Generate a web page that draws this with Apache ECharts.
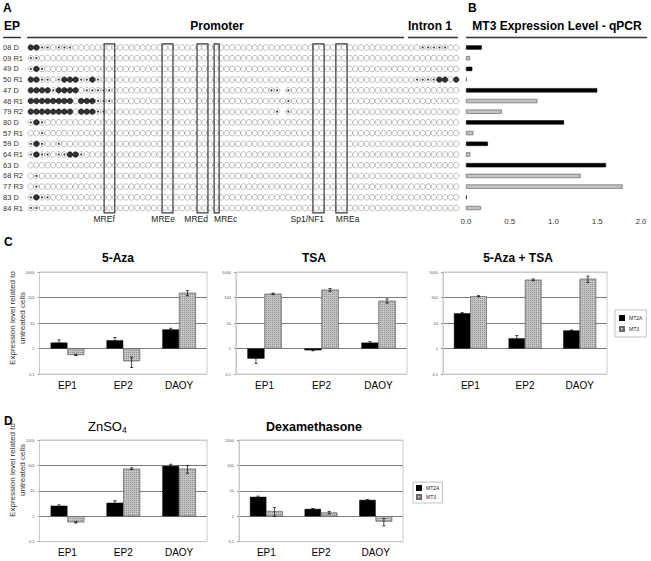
<!DOCTYPE html>
<html><head><meta charset="utf-8">
<script src="https://cdn.jsdelivr.net/npm/echarts@6/dist/echarts.min.js"></script>
<style>html,body{margin:0;padding:0;background:#fff}#c{width:651px;height:561px}</style>
</head><body><div id="c"></div>
<script>
// ---------- Panel A / B data ----------
const samples = ['08 D','09 R1','49 D','50 R1','47 D','46 R1','79 R2','80 D','57 R1','59 D','64 R1','63 D','68 R2','77 R3','83 D','84 R1'];
const nCpG = 77;
const methylatedCols = [
  [0,1],[],[1],[0,1,6,7,8,11,73,74,76],[0,1,2,3,5,6,7,8],[0,1,2,3,4,5,6,7,9,10,11],
  [0,1,2,3,4,5,6,7,9,10,11],[1],[],[1],[1,7,8],[],[],[],[1],[]
];
const partialCols = [
  [2,3,5,6,7,70,71,72,73,74],[0,1],[0,2],[2,3,5,9,10,12,69,70,71,72],[4,10,11,12,13,14,43,44,46],[12,13,14,46],
  [12,13,44,46],[0,2],[2],[0,2,5],[0,2,3,5,6,9],[],[1],[1],[0,2,3],[0,1]
];
const missingCols = [[],[],[],[],[45],[],[45],[],[],[],[],[],[],[],[],[]];
const boxes = [[13.1,15.0],[23.45,25.4],[29.7,31.65],[32.75,33.65],[50.4,52.4],[54.5,56.5]];
const boxNames = ['MREf','MREe','MREd','MREc','Sp1/NF1','MREa'];
const boxLabelAlign = ['right','right','right','left','right','left'];
const mt3qPCR = [0.18,0.046,0.072,0.008,1.50,0.815,0.41,1.12,0.084,0.25,0.05,1.60,1.31,1.79,0.008,0.17];
const qpcrTicks = ['0.0','0.5','1.0','1.5','2.0'];

// ---------- Panel C / D data ----------
const cellLines = ['EP1','EP2','DAOY'];
const logTicksC = ['0.1','1','10','100','1000'];
const logTicksD = ['0,1','1','10','100','1000'];
const aza_MT2A = [1.7,2.1,5.6],   aza_MT2A_err = [0.5,0.6,0.6];
const aza_MT3  = [0.56,0.32,152], aza_MT3_err  = [0.03,0.14,35];
const tsa_MT2A = [0.40,0.85,1.7], tsa_MT2A_err = [0.14,0.04,0.15];
const tsa_MT3  = [139,200,74],    tsa_MT3_err  = [10,25,14];
const azaTsa_MT2A = [24,2.5,5.1], azaTsa_MT2A_err = [1.5,0.7,0.2];
const azaTsa_MT3  = [112,495,540],azaTsa_MT3_err  = [6,40,150];
const zn_MT2A = [2.6,3.4,96],     zn_MT2A_err = [0.2,0.7,15];
const zn_MT3  = [0.58,74,74],     zn_MT3_err  = [0.04,6,25];
const dexa_MT2A = [5.8,1.95,4.4], dexa_MT2A_err = [0.4,0.05,0.1];
const dexa_MT3  = [1.6,1.4,0.62], dexa_MT3_err  = [0.6,0.15,0.2];

// ---------- build ----------
const FONT = '"Liberation Sans", Arial, sans-serif';
const chart = echarts.init(document.getElementById('c'), null, {renderer:'svg', width:651, height:561});

const whiteDots=[], blackDots=[], ringDots=[];
samples.forEach((s, r) => {
  for (let c = 0; c < nCpG; c++) {
    if (missingCols[r].includes(c)) continue;
    if (methylatedCols[r].includes(c)) blackDots.push([c, r]);
    else if (partialCols[r].includes(c)) ringDots.push([c, r]);
    else whiteDots.push([c, r]);
  }
});

const grids = [], xAxes = [], yAxes = [], series = [], legends = [];
// Grid 0: methylation map
grids.push({left:28, top:42.15, width:431, height:171.2});
xAxes.push({gridIndex:0, type:'value', min:-0.5, max:nCpG-0.5, show:false});
yAxes.push({gridIndex:0, type:'category', data:samples, inverse:true,
  axisLine:{show:false}, axisTick:{show:false}, splitLine:{show:false},
  axisLabel:{align:'left', margin:25, fontSize:7.5, color:'#333', fontFamily:FONT}});
const dotBase = {type:'scatter', xAxisIndex:0, yAxisIndex:0, symbol:'circle', symbolSize:5.6, silent:true, animation:false};
series.push(Object.assign({}, dotBase, {data:whiteDots, itemStyle:{color:'#fff', borderColor:'#777', borderWidth:0.6}}));
series.push(Object.assign({}, dotBase, {data:ringDots, itemStyle:{color:'#fff', borderColor:'#777', borderWidth:0.6}}));
series.push(Object.assign({}, dotBase, {data:ringDots, symbolSize:2, z:3, itemStyle:{color:'#000'}}));
series.push(Object.assign({}, dotBase, {data:blackDots, itemStyle:{color:'#000', borderColor:'#000', borderWidth:0.6}}));
series.push({type:'custom', xAxisIndex:0, yAxisIndex:0, z:6, silent:true, animation:false,
  data: boxes.map((b,i)=>[b[0], b[1], i]),
  encode:{x:[0,1]},
  renderItem:(params, api) => {
    const cs = params.coordSys;
    const x0 = api.coord([api.value(0), 0])[0];
    const x1 = api.coord([api.value(1), 0])[0];
    const i = api.value(2);
    const al = boxLabelAlign[i];
    const tx = al === 'left' ? x0 : x1 + (i === 1 ? 2 : 0);
    return {type:'group', children:[
      {type:'rect', shape:{x:x0, y:cs.y+1.8, width:x1-x0, height:cs.height-2.2},
        style:{fill:'none', stroke:'#3a3a3a', lineWidth:1.2}},
      {type:'text', style:{text:boxNames[i], x:tx, y:cs.y+cs.height+5.5, align:al, textAlign:al,
        verticalAlign:'middle', textVerticalAlign:'middle', fontSize:8.5, fontFamily:FONT, fill:'#222'}}
    ]};
  }});

// Grid 1: qPCR bars
grids.push({left:466, top:42.15, width:175, height:171.2});
xAxes.push({gridIndex:1, type:'value', min:0, max:2, interval:0.5,
  axisLine:{show:false}, axisTick:{show:false}, splitLine:{show:false},
  axisLabel:{fontSize:8, color:'#333', margin:4, fontFamily:FONT,
    formatter:v => qpcrTicks[Math.round(v/0.5)]}});
yAxes.push({gridIndex:1, type:'category', data:samples, inverse:true, show:false});
series.push({type:'bar', xAxisIndex:1, yAxisIndex:1, barWidth:4.3, silent:true, animation:false,
  data: mt3qPCR.map((v,i)=>({value:v, itemStyle: /D$/.test(samples[i])
    ? {color:'#000', borderColor:'#000', borderWidth:0.5}
    : {color:'#c2c2c2', borderColor:'#555', borderWidth:0.6}}))});

// Panels C / D
const mt3Style = {color:'#c4c4c4', borderColor:'#6a6a6a', borderWidth:0.5,
  decal:{symbol:'rect', symbolSize:1, color:'rgba(80,80,80,0.45)', dashArrayX:[1,1], dashArrayY:[1,1], rotation:0}};
const specs = [
  {g:{left:39.5, top:272, width:167.5, height:102}, a:aza_MT2A, ae:aza_MT2A_err, b:aza_MT3, be:aza_MT3_err, t:logTicksC},
  {g:{left:236, top:272, width:171, height:102}, a:tsa_MT2A, ae:tsa_MT2A_err, b:tsa_MT3, be:tsa_MT3_err, t:logTicksC},
  {g:{left:443, top:272, width:164, height:102}, a:azaTsa_MT2A, ae:azaTsa_MT2A_err, b:azaTsa_MT3, be:azaTsa_MT3_err, t:logTicksC},
  {g:{left:39.5, top:440, width:167.5, height:101.7}, a:zn_MT2A, ae:zn_MT2A_err, b:zn_MT3, be:zn_MT3_err, t:logTicksD},
  {g:{left:239, top:440, width:164, height:101.7}, a:dexa_MT2A, ae:dexa_MT2A_err, b:dexa_MT3, be:dexa_MT3_err, t:logTicksD}
];
function errRender(sign){
  return (params, api) => {
    const i = api.value(0);
    const lo = api.coord([i, api.value(1)]);
    const hi = api.coord([i, api.value(2)]);
    const band = api.size([1, 0])[0];
    const x = lo[0] + sign * band * 0.15;
    const cap = 1.6, st = {stroke:'#000', lineWidth:0.7};
    return {type:'group', children:[
      {type:'line', shape:{x1:x, y1:lo[1], x2:x, y2:hi[1]}, style:st},
      {type:'line', shape:{x1:x-cap, y1:lo[1], x2:x+cap, y2:lo[1]}, style:st},
      {type:'line', shape:{x1:x-cap, y1:hi[1], x2:x+cap, y2:hi[1]}, style:st}
    ]};
  };
}
specs.forEach((s, k) => {
  const gi = grids.length;
  grids.push(Object.assign({show:true, borderColor:'#c8c8c8', borderWidth:1, backgroundColor:'#fff'}, s.g));
  xAxes.push({gridIndex:gi, type:'category', data:cellLines,
    axisLine:{show:false, onZero:false}, axisTick:{show:false}, splitLine:{show:false},
    axisLabel:{fontSize:10, color:'#000', margin:6, fontFamily:FONT}});
  yAxes.push({gridIndex:gi, type:'value', min:-1, max:3, interval:1,
    axisLine:{show:true, lineStyle:{color:'#c8c8c8'}}, axisTick:{show:true, length:2, lineStyle:{color:'#999'}},
    splitLine:{show:true, lineStyle:{color:['#c8c8c8','#7a7a7a','#7a7a7a','#7a7a7a','#c8c8c8'], width:1}},
    axisLabel:{fontSize:4, color:'#555', margin:5, fontFamily:FONT,
      formatter:v => s.t[Math.round(v)+1]}});
  const lg = v => Math.log10(v);
  series.push({type:'bar', name:'MT2A', xAxisIndex:gi, yAxisIndex:gi, barGap:'0%', barCategoryGap:'40%',
    silent:true, animation:false, itemStyle:{color:'#000', borderColor:'#000', borderWidth:0.5},
    data:s.a.map(lg)});
  series.push({type:'bar', name:'MT3', xAxisIndex:gi, yAxisIndex:gi, barGap:'0%', barCategoryGap:'40%',
    silent:true, animation:false, itemStyle:mt3Style, data:s.b.map(lg)});
  series.push({type:'custom', xAxisIndex:gi, yAxisIndex:gi, z:5, silent:true, animation:false,
    renderItem:errRender(-1), encode:{x:0, y:[1,2]},
    data:s.a.map((v,i)=>[i, lg(Math.max(v - s.ae[i], v*0.05)), lg(v + s.ae[i])])});
  series.push({type:'custom', xAxisIndex:gi, yAxisIndex:gi, z:5, silent:true, animation:false,
    renderItem:errRender(1), encode:{x:0, y:[1,2]},
    data:s.b.map((v,i)=>[i, lg(Math.max(v - s.be[i], v*0.05)), lg(v + s.be[i])])});
});
const legendBase = {orient:'vertical', data:['MT2A','MT3'], icon:'rect', itemWidth:4, itemHeight:4,
  textStyle:{fontSize:5, color:'#222', fontFamily:FONT}, borderColor:'#999', borderWidth:0.6, selectedMode:false};
legends.push(Object.assign({}, legendBase, {left:615, top:310, itemGap:5, padding:[5,4,5,4]}));
legends.push(Object.assign({}, legendBase, {left:413, top:482, itemGap:3, padding:[3,3,3,3]}));

const T = (text, x, y, font, align) => ({type:'text', x, y, silent:true,
  style:{text, font, fill:'#000', align:align||'left', textAlign:align||'left', verticalAlign:'middle', textVerticalAlign:'middle'}});
const L = (x1, x2, y) => ({type:'line', silent:true, shape:{x1, y1:y, x2, y2:y}, style:{stroke:'#333', lineWidth:1.5}});
const yTitle = (x, y) => ({type:'text', x, y, rotation:Math.PI/2, silent:true,
  style:{text:'Expression level related to\nuntreated cells', font:'8px '+FONT, lineHeight:10, fill:'#333',
    align:'center', textAlign:'center', verticalAlign:'middle', textVerticalAlign:'middle'}});

const graphics = [
  T('A', 3, 8, 'bold 12px '+FONT),
  T('EP', 4, 26, 'bold 12px '+FONT), L(3, 21, 37.5),
  T('Promoter', 217, 26, 'bold 12px '+FONT, 'center'), L(27, 404, 37.5),
  T('Intron 1', 430, 26, 'bold 12px '+FONT, 'center'), L(408, 458, 37.5),
  T('B', 468, 8, 'bold 12px '+FONT),
  T('MT3 Expression Level - qPCR', 557, 26, 'bold 12px '+FONT, 'center'), L(466, 647, 37.5),
  T('C', 4, 242, 'bold 12px '+FONT),
  T('5-Aza', 118, 258, 'bold 12px '+FONT, 'center'),
  T('TSA', 314, 258, 'bold 12px '+FONT, 'center'),
  T('5-Aza + TSA', 518, 258, 'bold 12px '+FONT, 'center'),
  T('D', 4, 421, 'bold 12px '+FONT),
  T('ZnSO', 88, 426, '13px '+FONT),
  T('4', 122, 430, '8.5px '+FONT),
  T('Dexamethasone', 314, 427, 'bold 12.5px '+FONT, 'center'),
  yTitle(17, 318), yTitle(17, 470)
];

chart.setOption({animation:false, grid:grids, xAxis:xAxes, yAxis:yAxes, series, legend:legends, graphic:graphics});
</script></body></html>
